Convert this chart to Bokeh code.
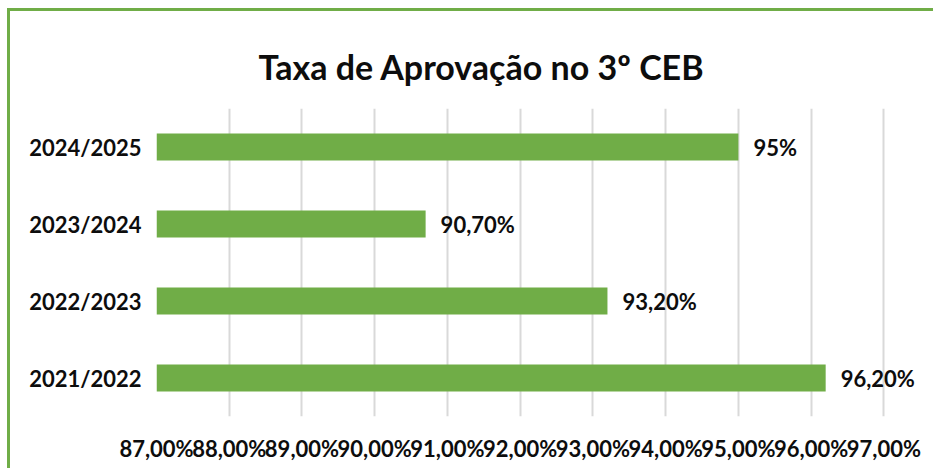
from bokeh.plotting import figure
from bokeh.models import FixedTicker, ColumnDataSource
from bokeh.embed import file_html
from bokeh.resources import INLINE
from bokeh.core.properties import value

title_text = "Taxa de Aprovação no 3º CEB"
categories = ["2021/2022", "2022/2023", "2023/2024", "2024/2025"]
values = [96.2, 93.2, 90.7, 95.0]
labels = ["96,20%", "93,20%", "90,70%", "95%"]
ticks = [87, 88, 89, 90, 91, 92, 93, 94, 95, 96, 97]
tick_labels = ["87,00%", "88,00%", "89,00%", "90,00%", "91,00%", "92,00%",
               "93,00%", "94,00%", "95,00%", "96,00%", "97,00%"]

GREEN = "#70AD47"
FONT = "Lato"
TXT = "#0D0D0D"

src = ColumnDataSource(dict(cat=categories, val=values, lab=labels))

p = figure(y_range=categories, x_range=(87, 97.6), width=926, height=460,
           output_backend="svg", toolbar_location=None,
           min_border_left=146, min_border_right=9,
           min_border_top=97, min_border_bottom=55)
p.styles = {"margin-left": "7px", "margin-top": "8px",
            "border-left": "3px solid " + GREEN, "border-top": "3px solid " + GREEN}

p.hbar(y="cat", left=87, right="val", height=0.35, source=src,
       fill_color=GREEN, line_color=None)
p.text(x="val", y="cat", text="lab", source=src, x_offset=15,
       text_font=value(FONT), text_font_style="bold", text_font_size="22px",
       text_baseline="middle", text_align="left", text_color=TXT)

p.title.text = title_text
p.title.align = "left"
p.title.vertical_align = "top"
p.title.offset = 102
p.title.standoff = 40
p.title.text_font = FONT
p.title.text_font_size = "34px"
p.title.text_font_style = "bold"
p.title.text_color = TXT

p.outline_line_color = None
p.ygrid.grid_line_color = None
p.xgrid.grid_line_color = "#D9D9D9"
p.xgrid.grid_line_width = 2
p.xaxis.ticker = FixedTicker(ticks=ticks)
p.xaxis.major_label_overrides = {t: l for t, l in zip(ticks, tick_labels)}

for ax in (p.xaxis, p.yaxis):
    ax.axis_line_color = None
    ax.major_tick_line_color = None
    ax.minor_tick_line_color = None
    ax.major_label_text_font = FONT
    ax.major_label_text_font_style = "bold"
    ax.major_label_text_color = TXT
    ax.major_label_text_font_size = "22px"
p.xaxis.major_label_standoff = 12
p.yaxis.major_label_standoff = 9

open("out.html", "w").write(file_html(p, INLINE))
